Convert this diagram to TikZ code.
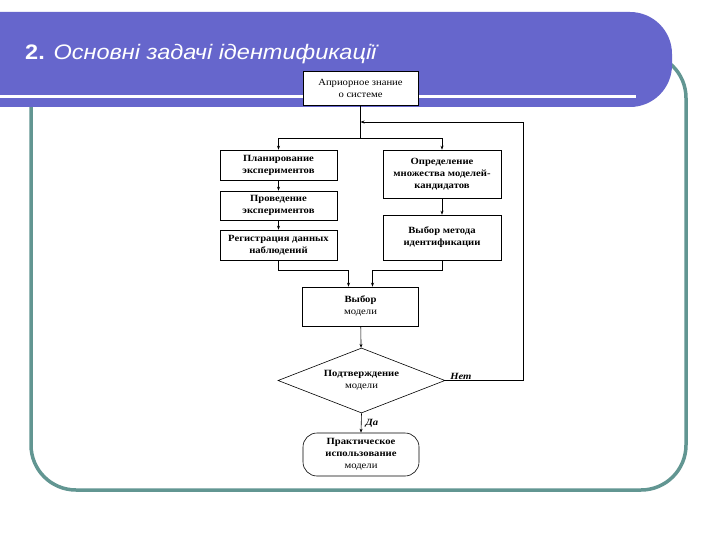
\documentclass[tikz,border=0pt]{standalone}
\usepackage{fontspec}
\setmainfont{Liberation Serif}
\newfontfamily\flowfont{Liberation Serif}[FakeStretch=1.12]
\newfontfamily\titlefont{Liberation Sans}[FakeStretch=1.12]
\usetikzlibrary{shapes.geometric,arrows.meta,calc}
\definecolor{bannerblue}{RGB}{102,102,204}
\definecolor{frameteal}{RGB}{98,150,146}
\newcommand{\boxfont}{\flowfont\fontsize{9.5}{12}\selectfont}

\begin{document}
\begin{tikzpicture}[x=1pt, y=-1pt,
  box/.style={draw, line width=0.6pt, fill=white, align=center, inner sep=1pt, font=\boxfont},
  dec/.style={draw, diamond, aspect=2.57, inner sep=0pt, line width=0.6pt, fill=white, align=center, font=\boxfont},
  term/.style={draw, rounded corners=14pt, line width=0.6pt, fill=white, align=center, inner sep=1pt, font=\boxfont},
  arr/.style={-{Stealth[length=4pt, width=3pt]}, line width=0.6pt},
  lbl/.style={font=\boxfont\bfseries\itshape, inner sep=1pt}]
  \useasboundingbox (0,0) rectangle (720,540);
  \fill[white] (0,0) rectangle (720,540);
  \draw[frameteal, line width=3.5pt, rounded corners=45pt] (31,53) rectangle (686,490);
  \fill[bannerblue] (0,12) [rounded corners=42pt] -- (672,12) -- (672,107) [sharp corners] -- (0,107) -- cycle;
  \draw[white, line width=3pt] (0,97) -- (636,97);
  \node[font=\titlefont\fontsize{21}{25}\selectfont\itshape, text=white, anchor=base west, inner sep=0pt] (title) at (25,60) {{\upshape\bfseries 2.} Основні задачі ідентификації};

  \node[box, minimum width=115, minimum height=34] (prior) at (360.5,88) {Априорное знание\\о системе};
  \node[box, minimum width=117, minimum height=30] (plan) at (278.5,165) {\textbf{Планирование}\\\textbf{экспериментов}};
  \node[box, minimum width=117, minimum height=29] (exper) at (278.5,205.5) {\textbf{Проведение}\\\textbf{экспериментов}};
  \node[box, minimum width=117, minimum height=30] (reg) at (278.5,245) {\textbf{Регистрация данных}\\\textbf{наблюдений}};
  \node[box, minimum width=118, minimum height=48] (cand) at (442,174) {\textbf{Определение}\\\textbf{множества моделей-}\\\textbf{кандидатов}};
  \node[box, minimum width=118, minimum height=45] (method) at (442,237.5) {\textbf{Выбор метода}\\\textbf{идентификации}};
  \node[box, minimum width=116, minimum height=39] (choice) at (360.5,306.5) {\textbf{Выбор}\\модели};
  \node[dec, minimum width=167, minimum height=65] (check) at (361.5,380.5) {\textbf{Подтверждение}\\модели};
  \node[term, minimum width=116, minimum height=43] (use) at (361,454.5) {\textbf{Практическое}\\\textbf{использование}\\модели};

  \coordinate (split) at (360.5,138);
  \coordinate (back) at (360.5,122);
  \coordinate (inL) at ($(choice.north)+(-12,0)$);
  \coordinate (inR) at ($(choice.north)+(12,0)$);

  \draw[line width=0.6pt] (prior.south) -- (split);
  \draw[arr] (split) -| (plan.north);
  \draw[arr] (split) -| (cand.north);
  \draw[arr] (plan) -- (exper);
  \draw[arr] (exper) -- (reg);
  \draw[arr] (cand) -- (method);
  \draw[arr] (reg.south) -- ++(0,10) -| (inL);
  \draw[arr] (method.south) -- ++(0,10) -| (inR);
  \draw[arr] (choice) -- (check);
  \draw[arr] (check.south) -- node[lbl, right=3pt] (yes) {Да} (use.north);
  \draw[arr] (check.east) -- node[lbl, above, pos=0.2] (no) {Нет} ++(78,0) |- (back);
\end{tikzpicture}
\end{document}
